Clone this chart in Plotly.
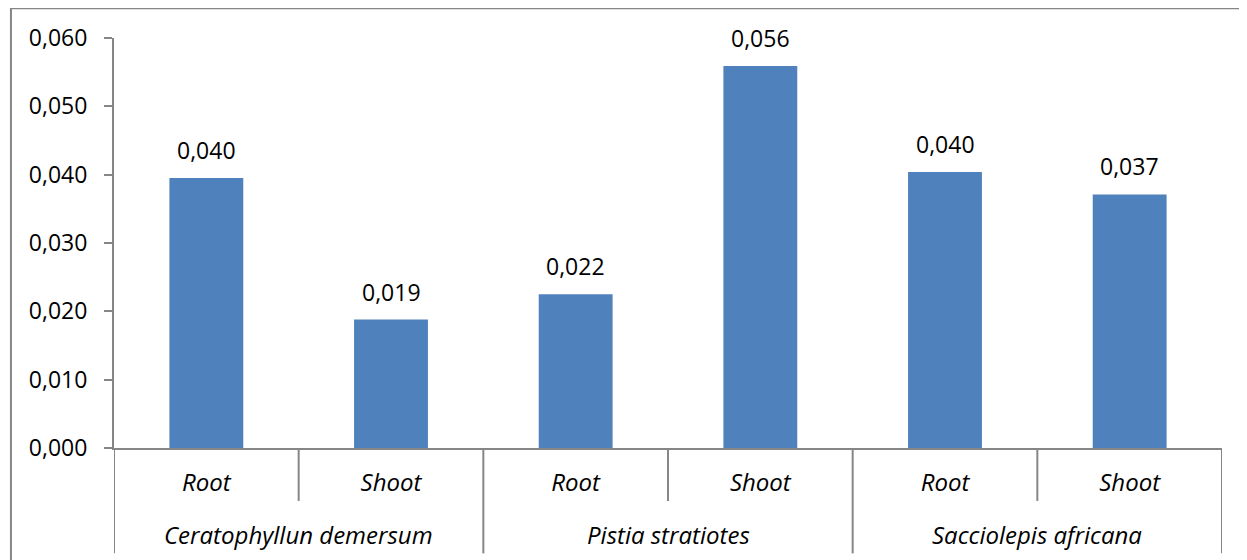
import plotly.graph_objects as go

species = ["Ceratophyllun demersum", "Pistia stratiotes", "Sacciolepis africana"]
parts = ["Root", "Shoot"]
values = [0.0395, 0.0188, 0.0225, 0.0559, 0.0404, 0.0371]
labels = ["0,040", "0,019", "0,022", "0,056", "0,040", "0,037"]
y_ticks = [0, 0.01, 0.02, 0.03, 0.04, 0.05, 0.06]
y_tick_text = ["0,000", "0,010", "0,020", "0,030", "0,040", "0,050", "0,060"]

FONT = "'Open Sans', sans-serif"
FS = 23
FS_CAT = 24
GREY = "#868686"

cats = [f"{s}|{p}" for s in species for p in parts]
sub_text = [f"<i>{p}</i>" for s in species for p in parts]
n_sub = len(parts)

fig = go.Figure(go.Bar(
    x=cats, y=values,
    marker=dict(color="#4F81BD", line=dict(width=0)),
    width=0.4, hoverinfo="x+y",
))

# value labels above bars
for c, v, t in zip(cats, values, labels):
    fig.add_annotation(x=c, y=v, text=t, showarrow=False, yanchor="bottom",
                       yshift=10, font=dict(size=FS, family=FONT, color="black"))

# group labels
for gi, s in enumerate(species):
    fig.add_annotation(x=gi * n_sub + (n_sub - 1) / 2, xref="x", y=-0.2115, yref="paper",
                       text=f"<i>{s}</i>", showarrow=False, yanchor="middle",
                       font=dict(size=FS_CAT, family=FONT, color="black"))

# dividers: group boundaries (full depth) and inner boundaries (first level)
for gi in range(len(species) + 1):
    xb = gi * n_sub - 0.5
    fig.add_shape(type="line", xref="x", yref="paper", x0=xb, x1=xb, y0=0, y1=-0.257,
                  line=dict(color=GREY, width=2))
for gi in range(len(species)):
    for k in range(1, n_sub):
        xb = gi * n_sub + k - 0.5
        fig.add_shape(type="line", xref="x", yref="paper", x0=xb, x1=xb, y0=0, y1=-0.129,
                      line=dict(color=GREY, width=2))

fig.update_layout(
    width=1247, height=560,
    margin=dict(l=106, r=33, t=30, b=120, autoexpand=False),
    plot_bgcolor="white", paper_bgcolor="white",
    showlegend=False,
    font=dict(family=FONT, size=FS, color="black"),
)
fig.update_yaxes(
    range=[0, 0.06], tickvals=y_ticks, ticktext=y_tick_text,
    showgrid=False, zeroline=False, automargin=False,
    showline=True, linecolor=GREY, linewidth=2,
    ticks="outside", ticklen=8, tickcolor=GREY, tickwidth=2,
    ticklabelstandoff=12,
    tickfont=dict(size=FS, family=FONT),
)
fig.update_xaxes(
    type="category", range=[-0.5, len(cats) - 0.5],
    tickvals=cats, ticktext=sub_text,
    showgrid=False, showline=True, linecolor=GREY, linewidth=2,
    ticks="", automargin=False, ticklabelstandoff=12,
    tickfont=dict(size=FS_CAT, family=FONT),
)
# outer chart frame
fig.add_shape(type="rect", xref="paper", yref="paper",
              x0=-0.093, x1=1.05, y0=-0.35, y1=1.0727,
              line=dict(color=GREY, width=2), fillcolor="rgba(0,0,0,0)", layer="below")
fig.write_html("out.html")
